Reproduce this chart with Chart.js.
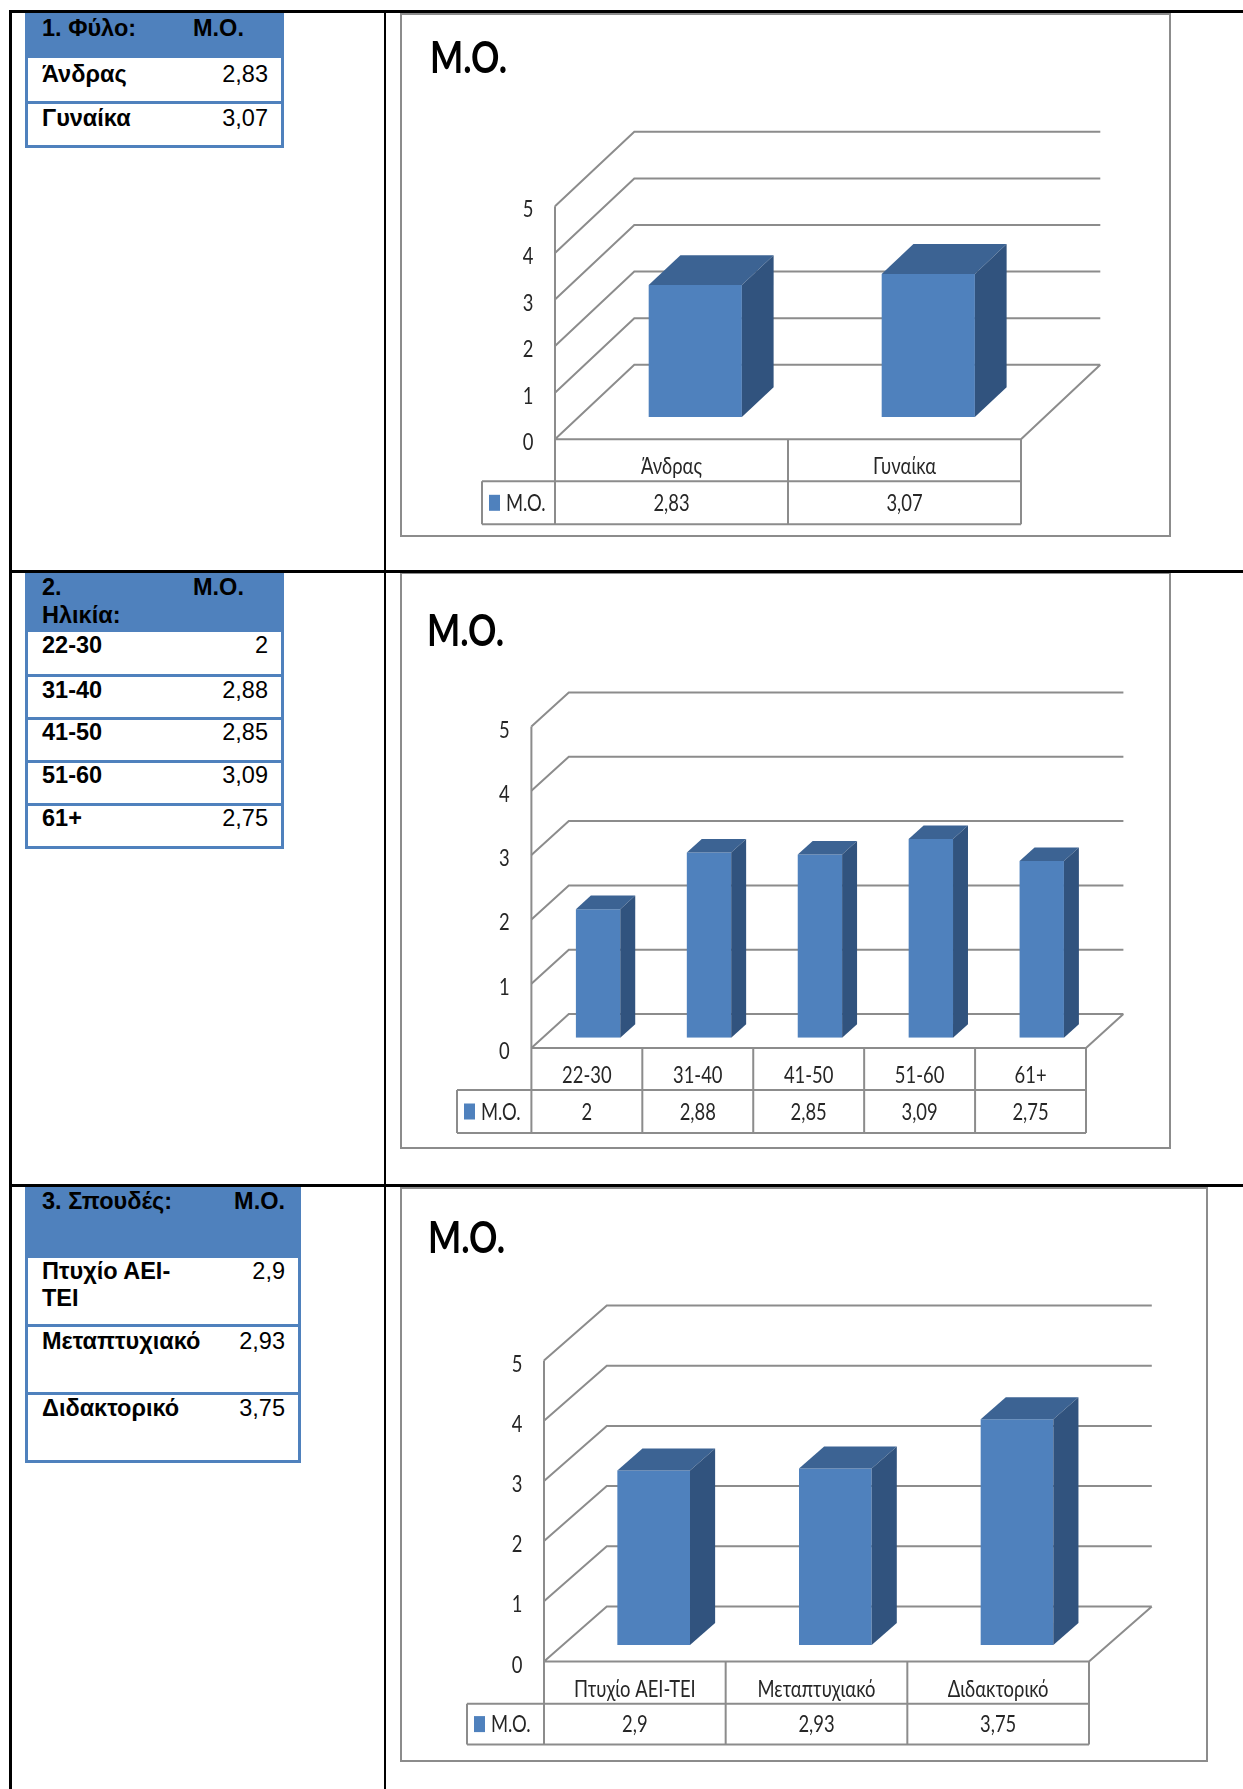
<!DOCTYPE html>
<html lang="el">
<head>
<meta charset="utf-8">
<title>Μ.Ο.</title>
<script src="https://cdn.jsdelivr.net/npm/chart.js@4.4.1/dist/chart.umd.min.js"></script>
<style>
  html, body { margin: 0; padding: 0; background: #fff; }
  body { position: relative; width: 1243px; height: 1789px; overflow: hidden;
         font-family: "Liberation Sans", Arial, sans-serif; }
  .rule { position: absolute; background: #000; z-index: 3; }
  .tbl  { position: absolute; box-sizing: border-box; border: 3px solid #4f81bd; background: #fff; }
  .tbl .hd  { position: absolute; left: -3px; right: -3px; top: -3px; background: #4f81bd; }
  .tbl .sep { position: absolute; left: 0; right: 0; height: 3px; background: #4f81bd; }
  .cell { position: absolute; font-size: 23.5px; line-height: 27px; color: #000; white-space: nowrap; z-index: 2; }
  .cell.b { font-weight: bold; }
  .cell.r { text-align: right; }
  .cell.wrap { white-space: normal; }
  canvas.chart { position: absolute; z-index: 1; }
</style>
</head>
<body>
<script>
/* Μέσοι όροι ανά φύλο, ηλικία και σπουδές: πίνακας αριστερά + 3D στήλες δεξιά. */

const seriesName = 'Μ.Ο.';
const yTicks = [0, 1, 2, 3, 4, 5];

const sexLabels = ['Άνδρας', 'Γυναίκα'];
const sexValues = [2.83, 3.07];

const ageLabels = ['22-30', '31-40', '41-50', '51-60', '61+'];
const ageValues = [2, 2.88, 2.85, 3.09, 2.75];

const eduLabels = ['Πτυχίο ΑΕΙ-ΤΕΙ', 'Μεταπτυχιακό', 'Διδακτορικό'];
const eduValues = [2.9, 2.93, 3.75];

const fmt = v => String(v).replace('.', ',');

// Γραμμές του εξωτερικού πίνακα της σελίδας
[[9, 10, 1234, 2.5], [9, 570, 1234, 2.5], [9, 1184, 1234, 2.5],
 [9, 10, 2.5, 1779], [383.5, 10, 2.5, 1779]].forEach(([x, y, w, h]) => {
  const d = document.createElement('div');
  d.className = 'rule';
  Object.assign(d.style, { left: x + 'px', top: y + 'px', width: w + 'px', height: h + 'px' });
  document.body.appendChild(d);
});

/* ---------- Αριστερή στήλη: μικροί πίνακες ---------- */
const BASE = 21.6; // απόσταση baseline από την κορυφή γραμμής 27px

function addCell(text, x, baseline, cls, width) {
  const d = document.createElement('div');
  d.className = 'cell ' + (cls || '');
  d.textContent = text;
  d.style.top = (baseline - BASE) + 'px';
  if (d.classList.contains('r')) { d.style.left = (x - 300) + 'px'; d.style.width = '300px'; }
  else { d.style.left = x + 'px'; if (width) d.style.width = width + 'px'; }
  document.body.appendChild(d);
}

function buildTable(t, labels, values) {
  const box = document.createElement('div');
  box.className = 'tbl';
  Object.assign(box.style, { left: t.x + 'px', top: t.top + 'px', width: t.w + 'px', height: (t.bottom - t.top) + 'px' });
  const hd = document.createElement('div');
  hd.className = 'hd';
  hd.style.height = (t.headBottom - t.top) + 'px';
  box.appendChild(hd);
  t.seps.forEach(y => {
    const s = document.createElement('div');
    s.className = 'sep';
    s.style.top = (y - t.top - 3) + 'px';
    box.appendChild(s);
  });
  document.body.appendChild(box);

  t.headLines.forEach((s, i) => addCell(s, 42, t.headBase[i], 'b'));
  if (t.moRight) addCell(seriesName, t.moRight, t.headBase[0], 'b r');
  else addCell(seriesName, t.moX, t.headBase[0], 'b');
  labels.forEach((lab, i) => {
    addCell(lab, 42, t.rowBase[i], 'b wrap', t.labelW);
    addCell(fmt(values[i]), t.numRight, t.rowBase[i], 'r');
  });
}

buildTable({ x: 25, w: 259, top: 12, headBottom: 58, seps: [100.7], bottom: 148.3,
  headLines: ['1. Φύλο:'], headBase: [36.7], moX: 193, numRight: 268,
  rowBase: [82.7, 126.7], labelW: 150 }, sexLabels, sexValues);

buildTable({ x: 25, w: 259, top: 572, headBottom: 631.7, seps: [674.3, 716.7, 760, 802.7], bottom: 849.3,
  headLines: ['2.', 'Ηλικία:'], headBase: [596, 623.3], moX: 193, numRight: 268,
  rowBase: [654, 698.3, 741, 783.3, 826.7], labelW: 150 }, ageLabels, ageValues);

// στενή στήλη ετικετών: το «Πτυχίο ΑΕΙ-ΤΕΙ» σπάει μετά την παύλα
buildTable({ x: 25, w: 276, top: 1186, headBottom: 1258.3, seps: [1324.3, 1391.7], bottom: 1463.3,
  headLines: ['3. Σπουδές:'], headBase: [1210], moRight: 285, numRight: 285,
  rowBase: [1280, 1350, 1416.7], labelW: 140 }, eduLabels, eduValues);

/* ---------- Δεξιά στήλη: 3D στήλες με πίνακα δεδομένων ---------- */
const FRONT = '#4f81bd', TOP = '#3c6393', SIDE = '#31537e';
const GRID = '#8c8c8c', INK = '#262626';
const BAR_Z = 0.3, BAR_D = 0.4;   // θέση/βάθος της στήλης μέσα στο δάπεδο

function txt(ctx, s, x, yb, align, font, color, sx) {
  ctx.save();
  ctx.translate(x, yb);
  ctx.scale(sx, 1);
  ctx.font = font; ctx.fillStyle = color;
  ctx.textAlign = align; ctx.textBaseline = 'alphabetic';
  ctx.fillText(s, 0, 0);
  ctx.restore();
}

function txtFit(ctx, s, x, yb, font, color, w) {
  ctx.save();
  ctx.font = font;
  const m = ctx.measureText(s).width;
  ctx.restore();
  txt(ctx, s, x, yb, 'left', font, color, w / m);
}

const LBL_FONT = '23px Lato', LBL_SX = 0.8;

const box3d = {
  id: 'box3d',
  beforeDatasetsDraw(chart, args, g) {
    const { ctx, chartArea: a, scales: { x, y } } = chart;
    const yAt = (v, d) => y.getPixelForValue(v) + (d - BAR_Z) * g.dy;
    const left0 = a.left - BAR_Z * g.dx, right0 = a.right - BAR_Z * g.dx;
    ctx.save();
    ctx.strokeStyle = GRID; ctx.lineWidth = 2;
    ctx.strokeRect(1, 1, chart.width - 2, chart.height - 2);

    // πλαϊνός και πίσω τοίχος
    ctx.beginPath();
    yTicks.forEach(v => {
      ctx.moveTo(left0, yAt(v, 0));
      ctx.lineTo(left0 + g.dx, yAt(v, 1));
      ctx.lineTo(right0 + g.dx, yAt(v, 1));
    });
    // δάπεδο
    ctx.moveTo(left0, yAt(0, 0));
    ctx.lineTo(right0, yAt(0, 0));
    ctx.lineTo(right0 + g.dx, yAt(0, 1));
    ctx.stroke();

    // πίνακας δεδομένων κάτω από τον άξονα
    const t0 = yAt(0, 0), t1 = t0 + g.rows[0], t2 = t1 + g.rows[1];
    const n = chart.data.labels.length, cw = (a.right - a.left) / n;
    ctx.beginPath();
    ctx.moveTo(left0, yAt(yTicks[yTicks.length - 1], 0)); ctx.lineTo(left0, t2);
    ctx.moveTo(g.legendX, t1); ctx.lineTo(right0, t1);
    ctx.moveTo(g.legendX, t2); ctx.lineTo(right0, t2);
    ctx.moveTo(g.legendX, t1); ctx.lineTo(g.legendX, t2);
    for (let i = 1; i <= n; i++) {
      ctx.moveTo(left0 + i * cw, t0); ctx.lineTo(left0 + i * cw, t2);
    }
    ctx.stroke();
    ctx.restore();

    // ετικέτες άξονα y
    yTicks.forEach(v => txt(ctx, String(v), left0 - 27, yAt(v, 0) + 11, 'center', LBL_FONT, INK, LBL_SX));

    const c1 = (t0 + t1) / 2, c2 = (t1 + t2) / 2;
    chart.data.labels.forEach((lab, i) => {
      const cx = x.getPixelForValue(i) - BAR_Z * g.dx;
      txt(ctx, lab, cx, c1 + 14, 'center', LBL_FONT, INK, LBL_SX);
      txt(ctx, fmt(chart.data.datasets[0].data[i]), cx, c2 + 8, 'center', LBL_FONT, INK, LBL_SX);
    });
    // υπόμνημα στο πρώτο κελί
    ctx.fillStyle = FRONT;
    ctx.fillRect(g.legendX + 7, c2 - 8, 11, 16);
    txt(ctx, chart.data.datasets[0].label, g.legendX + 24, c2 + 8, 'left', LBL_FONT, INK, LBL_SX);

    // τίτλος
    txtFit(ctx, chart.data.datasets[0].label, g.title[0], g.title[1], 'bold 44px Lato', '#000', 77);
  },
  afterDatasetsDraw(chart, args, g) {
    const { ctx } = chart;
    const ox = BAR_D * g.dx, oy = BAR_D * g.dy;
    chart.getDatasetMeta(0).data.forEach(el => {
      const x1 = el.x - el.width / 2, x2 = el.x + el.width / 2, yt = el.y, yb = el.base;
      ctx.fillStyle = TOP;
      ctx.beginPath();
      ctx.moveTo(x1, yt); ctx.lineTo(x2, yt); ctx.lineTo(x2 + ox, yt + oy); ctx.lineTo(x1 + ox, yt + oy);
      ctx.closePath(); ctx.fill();
      ctx.fillStyle = SIDE;
      ctx.beginPath();
      ctx.moveTo(x2, yt); ctx.lineTo(x2 + ox, yt + oy); ctx.lineTo(x2 + ox, yb + oy); ctx.lineTo(x2, yb);
      ctx.closePath(); ctx.fill();
    });
  }
};

// θέσεις σε συντεταγμένες σελίδας
const chartGeo = [
  { box: [400, 13, 771, 524],   fx: 555,   frx: 1021, y0: 439.3,  unit: 46.6, dx: 79.3, dy: -74.5,
    legendX: 482, rows: [42, 43],     title: [430, 73] },
  { box: [400, 572, 771, 577],  fx: 531.4, frx: 1086, y0: 1048,   unit: 64.3, dx: 37.4, dy: -34,
    legendX: 457, rows: [42, 43],     title: [427, 646] },
  { box: [400, 1187, 808, 575], fx: 544,   frx: 1089, y0: 1661.5, unit: 60.2, dx: 62.8, dy: -55,
    legendX: 467, rows: [42.3, 40.6], title: [428, 1253] },
];

function makeChart(geo, labels, values) {
  const [bx, by, bw, bh] = geo.box;
  const cv = document.createElement('canvas');
  cv.className = 'chart';
  cv.width = bw; cv.height = bh;
  cv.style.left = bx + 'px'; cv.style.top = by + 'px';
  document.body.appendChild(cv);

  const yMax = yTicks[yTicks.length - 1];
  const base = geo.y0 + BAR_Z * geo.dy;           // βάση της μπροστινής όψης
  // τοπικές συντεταγμένες καμβά
  const g = { ...geo, legendX: geo.legendX - bx, title: [geo.title[0] - bx, geo.title[1] - by] };

  return new Chart(cv, {
    type: 'bar',
    data: { labels, datasets: [{
      label: seriesName, data: values,
      backgroundColor: FRONT, borderWidth: 0,
      barPercentage: 0.4, categoryPercentage: 1
    }] },
    options: {
      responsive: false, animation: false, devicePixelRatio: 1,
      layout: { padding: {
        left: geo.fx + BAR_Z * geo.dx - bx,
        right: bx + bw - (geo.frx + BAR_Z * geo.dx),
        top: base - yMax * geo.unit - by,
        bottom: by + bh - base
      } },
      scales: {
        x: { display: false, offset: true },
        y: { display: false, min: 0, max: yMax }
      },
      plugins: { legend: { display: false }, tooltip: { enabled: false }, box3d: g }
    },
    plugins: [box3d]
  });
}

makeChart(chartGeo[0], sexLabels, sexValues);
makeChart(chartGeo[1], ageLabels, ageValues);
makeChart(chartGeo[2], eduLabels, eduValues);
</script>
</body>
</html>
